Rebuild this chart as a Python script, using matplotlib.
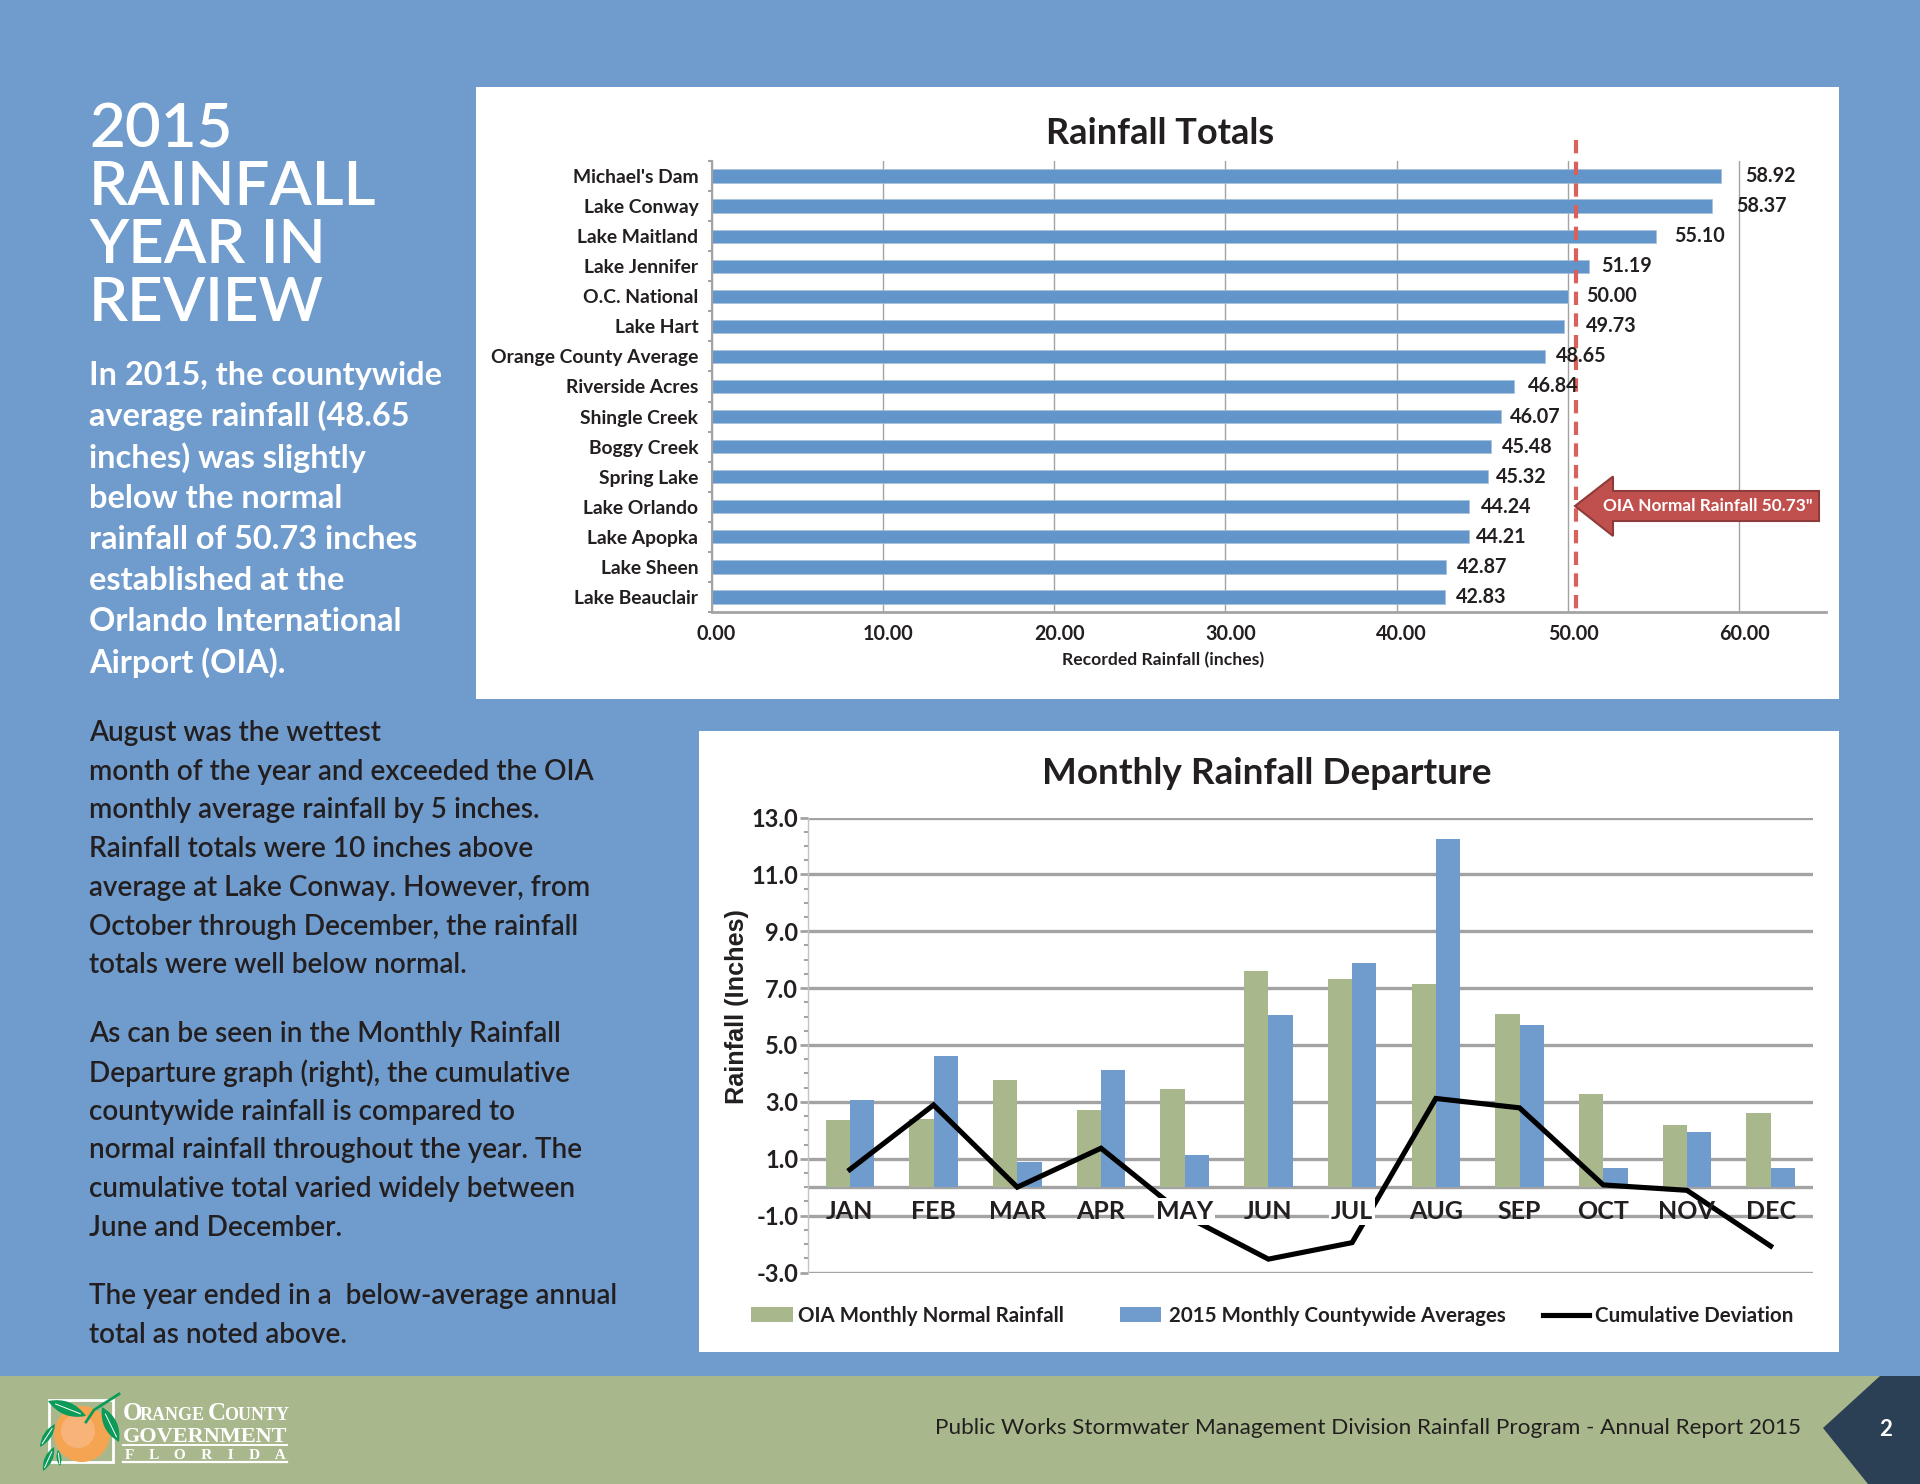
import numpy as np
import matplotlib as mpl
mpl.use('Agg')
import matplotlib.pyplot as plt
from matplotlib.patches import Rectangle, Polygon, Circle, PathPatch
from matplotlib.path import Path
from matplotlib.ticker import MultipleLocator, FixedLocator
from matplotlib.transforms import ScaledTranslation

W, H = 1920, 1484
BLUE = '#6f9bcd'
BAR_BLUE = '#6296ca'
GREEN = '#a9b88c'
NAVY = '#2b3f55'
DARK = '#231f20'
GRID = '#a3a3a3'
BODY = 'Lato'
CHART = 'Lato'

# Rainfall totals
sites = ["Michael's Dam", 'Lake Conway', 'Lake Maitland', 'Lake Jennifer', 'O.C. National',
         'Lake Hart', 'Orange County Average', 'Riverside Acres', 'Shingle Creek', 'Boggy Creek',
         'Spring Lake', 'Lake Orlando', 'Lake Apopka', 'Lake Sheen', 'Lake Beauclair']
totals = [58.92, 58.37, 55.10, 51.19, 50.00, 49.73, 48.65, 46.84, 46.07, 45.48, 45.32, 44.24, 44.21, 42.87, 42.83]
total_ticks = [0, 10, 20, 30, 40, 50, 60]
oia_line = 50.45  # where the dashed line sits on the axis in the picture
label_pad = [24, 25, 19, 13, 18, 22, 11, 14, 9, 11, 8, 11, 7, 11, 11]  # px gap bar end -> label

# Monthly departure
months = ['JAN', 'FEB', 'MAR', 'APR', 'MAY', 'JUN', 'JUL', 'AUG', 'SEP', 'OCT', 'NOV', 'DEC']
oia_normal = [2.35, 2.40, 3.76, 2.72, 3.46, 7.60, 7.32, 7.14, 6.10, 3.29, 2.19, 2.60]
county_avg = [3.05, 4.62, 0.90, 4.11, 1.12, 6.04, 7.90, 12.25, 5.70, 0.67, 1.94, 0.67]
cumulative = [0.62, 2.89, 0.00, 1.37, -1.00, -2.53, -1.95, 3.12, 2.79, 0.08, -0.11, -2.07]
dep_ticks = [13, 11, 9, 7, 5, 3, 1, -1, -3]

# Page text
heading = ['2015', 'RAINFALL', 'YEAR IN', 'REVIEW']
intro = ['In 2015, the countywide', 'average rainfall (48.65', 'inches) was slightly', 'below the normal',
         'rainfall of 50.73 inches', 'established at the', 'Orlando International', 'Airport (OIA).']
para1 = ['August was the wettest', 'month of the year and exceeded the OIA', 'monthly average rainfall by 5 inches.',
         'Rainfall totals were 10 inches above', 'average at Lake Conway. However, from',
         'October through December, the rainfall', 'totals were well below normal.']
para2 = ['As can be seen in the Monthly Rainfall', 'Departure graph (right), the cumulative',
         'countywide rainfall is compared to', 'normal rainfall throughout the year. The',
         'cumulative total varied widely between', 'June and December.']
para3 = ['The year ended in a  below-average annual', 'total as noted above.']


def axes_px(x0, y0, x1, y1, **kw):
    return fig.add_axes([x0 / W, 1 - y1 / H, (x1 - x0) / W, (y1 - y0) / H], **kw)


def text_lines(lines, x, y0, step, **kw):
    for i, line in enumerate(lines):
        page.text(x, y0 + i * step, line, va='center', ha='left', **kw)


def leaf(p0, p1, bulge):
    # pointed leaf between two points, with a white vein
    p0, p1 = np.array(p0, float), np.array(p1, float)
    mid = (p0 + p1) / 2
    n = np.array([p0[1] - p1[1], p1[0] - p0[0]]) / np.hypot(*(p1 - p0))
    verts = [p0, mid + n * bulge, p1, mid - n * bulge, p0]
    codes = [Path.MOVETO, Path.CURVE3, Path.CURVE3, Path.CURVE3, Path.CURVE3]
    page.add_patch(PathPatch(Path(verts, codes), fc='#0c9a59', ec='none'))
    page.plot([p0[0] + (p1[0] - p0[0]) * 0.2, p0[0] + (p1[0] - p0[0]) * 0.85],
              [p0[1] + (p1[1] - p0[1]) * 0.2, p0[1] + (p1[1] - p0[1]) * 0.85], color='white', lw=0.7)


fig = plt.figure(figsize=(W / 100, H / 100), dpi=100, facecolor=BLUE)

# Full page layer in pixel coordinates
page = axes_px(0, 0, W, H)
page.set_xlim(0, W)
page.set_ylim(H, 0)
page.axis('off')
page.add_patch(Rectangle((476, 87), 1363, 612, fc='white', ec='none'))
page.add_patch(Rectangle((699, 731), 1140, 621, fc='white', ec='none'))
page.add_patch(Rectangle((0, 1376), W, 108, fc=GREEN, ec='none'))
page.add_patch(Polygon([(1880, 1376), (1920, 1376), (1920, 1484), (1868, 1484), (1823, 1428)], fc=NAVY, ec='none'))

for i, line in enumerate(heading):
    page.text(89, 129 + i * 58, line, color='white', fontsize=44.5, family='Lato', va='center', weight='semibold')
text_lines(intro, 89, 375, 41.1, color='white', fontsize=23.4, family=BODY, weight='bold')
text_lines(para1, 89, 733, 38.7, color=DARK, fontsize=20.1, family=BODY, weight='semibold')
text_lines(para2, 89, 1034, 38.8, color=DARK, fontsize=20.1, family=BODY, weight='semibold')
text_lines(para3, 89, 1296, 38.8, color=DARK, fontsize=20.1, family=BODY, weight='semibold')

page.text(1801, 1428, 'Public Works Stormwater Management Division Rainfall Program - Annual Report 2015',
          ha='right', va='center', fontsize=16.2, family=BODY, color=DARK)
page.text(1886, 1429, '2', color='white', fontsize=16, family=BODY, weight='bold', ha='center', va='center')

# Logo
page.add_patch(Rectangle((49, 1400), 64, 62, fc='none', ec='white', lw=2))
page.add_patch(Circle((82, 1434), 28, fc='#f5a552', ec='none'))
page.add_patch(Circle((78, 1431), 17, fc='#f8b478', ec='none'))
leaf((48, 1401), (86, 1416), 13)
leaf((102, 1407), (119, 1442), 13)
leaf((55, 1424), (40, 1447), 8)
leaf((54, 1447), (43, 1471), 8)
leaf((58, 1450), (60, 1466), 5)
page.plot([86, 94, 119], [1422, 1410, 1394], color='#0c9a59', lw=2)
serif = 'Liberation Serif'
page.text(123, 1420, 'O', color='white', fontsize=18, family=serif, weight='bold', va='baseline')
page.text(140, 1420, 'RANGE', color='white', fontsize=13, family=serif, weight='bold', va='baseline')
page.text(208, 1420, 'C', color='white', fontsize=18, family=serif, weight='bold', va='baseline')
page.text(224, 1420, 'OUNTY', color='white', fontsize=13, family=serif, weight='bold', va='baseline')
page.text(205, 1442, 'GOVERNMENT', color='white', fontsize=16, family=serif, weight='bold', va='baseline', ha='center')
page.plot([123, 287], [1445, 1445], color='white', lw=1.4)
page.text(205, 1459, 'F    L    O    R    I    D    A', color='white', fontsize=11, family=serif, weight='bold',
          va='baseline', ha='center')
page.plot([123, 287], [1462, 1462], color='white', lw=1.6)

# Rainfall Totals chart
ax = axes_px(711.5, 161, 1826, 612)
ax.patch.set_alpha(0)
y = np.arange(len(sites))
ax.barh(y, totals, height=0.44, color=BAR_BLUE, edgecolor='#a9bfd8', linewidth=0.5, zorder=2)
ax.set_xlim(0, 65.05)
ax.set_ylim(len(sites) - 0.5, -0.5)
ax.set_xticks(total_ticks)
ax.set_xticklabels(['%.2f' % t for t in total_ticks], family=CHART, weight='bold', fontsize=14.2, color=DARK)
ax.xaxis.grid(True, color=GRID, lw=1, zorder=0)
ax.set_yticks(y)
ax.set_yticklabels(sites, family=CHART, weight='bold', fontsize=13.9, color=DARK)
ax.yaxis.set_minor_locator(FixedLocator(np.arange(len(sites) + 1) - 0.5))
ax.tick_params(axis='y', which='major', length=0, pad=9.5)
ax.tick_params(axis='y', which='minor', length=3, color=GRID, width=1.5)
ax.tick_params(axis='x', length=0, pad=8.5)
shift = ScaledTranslation(5 / 100, 0, fig.dpi_scale_trans)
for label in ax.get_xticklabels():
    label.set_transform(label.get_transform() + shift)
for s in ['top', 'right']:
    ax.spines[s].set_visible(False)
ax.spines['left'].set_color(GRID)
ax.spines['left'].set_linewidth(1.5)
ax.spines['bottom'].set_color(GRID)
ax.spines['bottom'].set_linewidth(2)
ax.set_axisbelow(True)
for i, v in enumerate(totals):
    ax.annotate('%.2f' % v, (v, i), xytext=(label_pad[i] * 0.72, 0), textcoords='offset points', va='center',
                family=CHART, weight='bold', fontsize=14.2, color=DARK, zorder=5)
ax.plot([oia_line, oia_line], [-1.2, len(sites) - 0.4], color='#d9605b', lw=3, ls=(0, (3.2, 2)), clip_on=False, zorder=4)
page.text(1160.5, 133, 'Rainfall Totals', ha='center', va='center', fontsize=26, family=CHART, weight='bold', color=DARK)
page.text(1163, 660, 'Recorded Rainfall (inches)', ha='center', va='center', fontsize=12.6, family=CHART, weight='bold', color=DARK)

# Callout arrow, on its own layer above the chart
top = axes_px(0, 0, W, H)
top.set_xlim(0, W)
top.set_ylim(H, 0)
top.axis('off')
top.add_patch(Polygon([(1575, 506), (1613, 476.5), (1613, 491), (1819, 491), (1819, 521), (1613, 521), (1613, 536)],
                      fc='#c0504d', ec='#8f3b39', lw=1.5))
top.text(1708, 506, 'OIA Normal Rainfall 50.73"', ha='center', va='center', color='white', fontsize=12.4, family=CHART, weight='bold')

# Monthly Rainfall Departure chart
ax2 = axes_px(808, 817.5, 1812.5, 1272.5)
ax2.patch.set_alpha(0)
x = np.arange(len(months))
bw = 0.29
ax2.bar(x - bw / 2, oia_normal, bw, color=GREEN, zorder=2)
ax2.bar(x + bw / 2, county_avg, bw, color=BLUE, zorder=2)
ax2.plot(x, cumulative, color='black', lw=3.7, zorder=3, solid_joinstyle='miter')
ax2.set_xlim(-0.5, len(months) - 0.5)
ax2.set_ylim(-3, 13)
ax2.set_yticks(dep_ticks)
ax2.set_yticklabels(['%.1f' % t for t in dep_ticks], family=CHART, weight='bold', fontsize=17, color=DARK)
ax2.yaxis.set_minor_locator(MultipleLocator(0.5))
ax2.yaxis.grid(True, color=GRID, lw=2.4, zorder=0)
ax2.axhline(0, color=GRID, lw=2.4, zorder=1)
ax2.set_axisbelow(True)
ax2.tick_params(axis='y', which='major', length=6, color=GRID, width=2, pad=1)
ax2.tick_params(axis='y', which='minor', length=3, color=GRID, width=1.5)
ax2.set_xticks([])
for s in ['top', 'right', 'bottom']:
    ax2.spines[s].set_visible(False)
ax2.spines['left'].set_color('#c4c4c4')
ax2.spines['left'].set_linewidth(1)
for i, m in enumerate(months):
    box = dict(fc='white', ec='none', pad=1.5) if m in ('MAY', 'JUL') else None
    ax2.annotate(m, (i, 0), xytext=(0, -9), textcoords='offset points', ha='center', va='top', family=CHART,
                 weight='bold', fontsize=18, color=DARK, bbox=box, zorder=6)

top.text(1267, 773.5, 'Monthly Rainfall Departure', ha='center', va='center', fontsize=26.6, family=CHART, weight='bold', color=DARK)
top.text(737, 1007, 'Rainfall (Inches)', rotation=90, ha='center', va='center', fontsize=18.2, family='Liberation Sans', weight='bold', color=DARK)

# Legend
top.add_patch(Rectangle((751, 1307), 42, 15, fc=GREEN, ec='none'))
top.text(798, 1316, 'OIA Monthly Normal Rainfall', va='center', fontsize=14.8, family=CHART, weight='bold', color=DARK)
top.add_patch(Rectangle((1119.5, 1307), 41, 15, fc=BLUE, ec='none'))
top.text(1169, 1316, '2015 Monthly Countywide Averages', va='center', fontsize=14.8, family=CHART, weight='bold', color=DARK)
top.plot([1543, 1589], [1315, 1315], color='black', lw=3.7)
top.text(1595, 1316, 'Cumulative Deviation', va='center', fontsize=14.8, family=CHART, weight='bold', color=DARK)

plt.savefig('out.png', dpi=100, facecolor=fig.get_facecolor())
